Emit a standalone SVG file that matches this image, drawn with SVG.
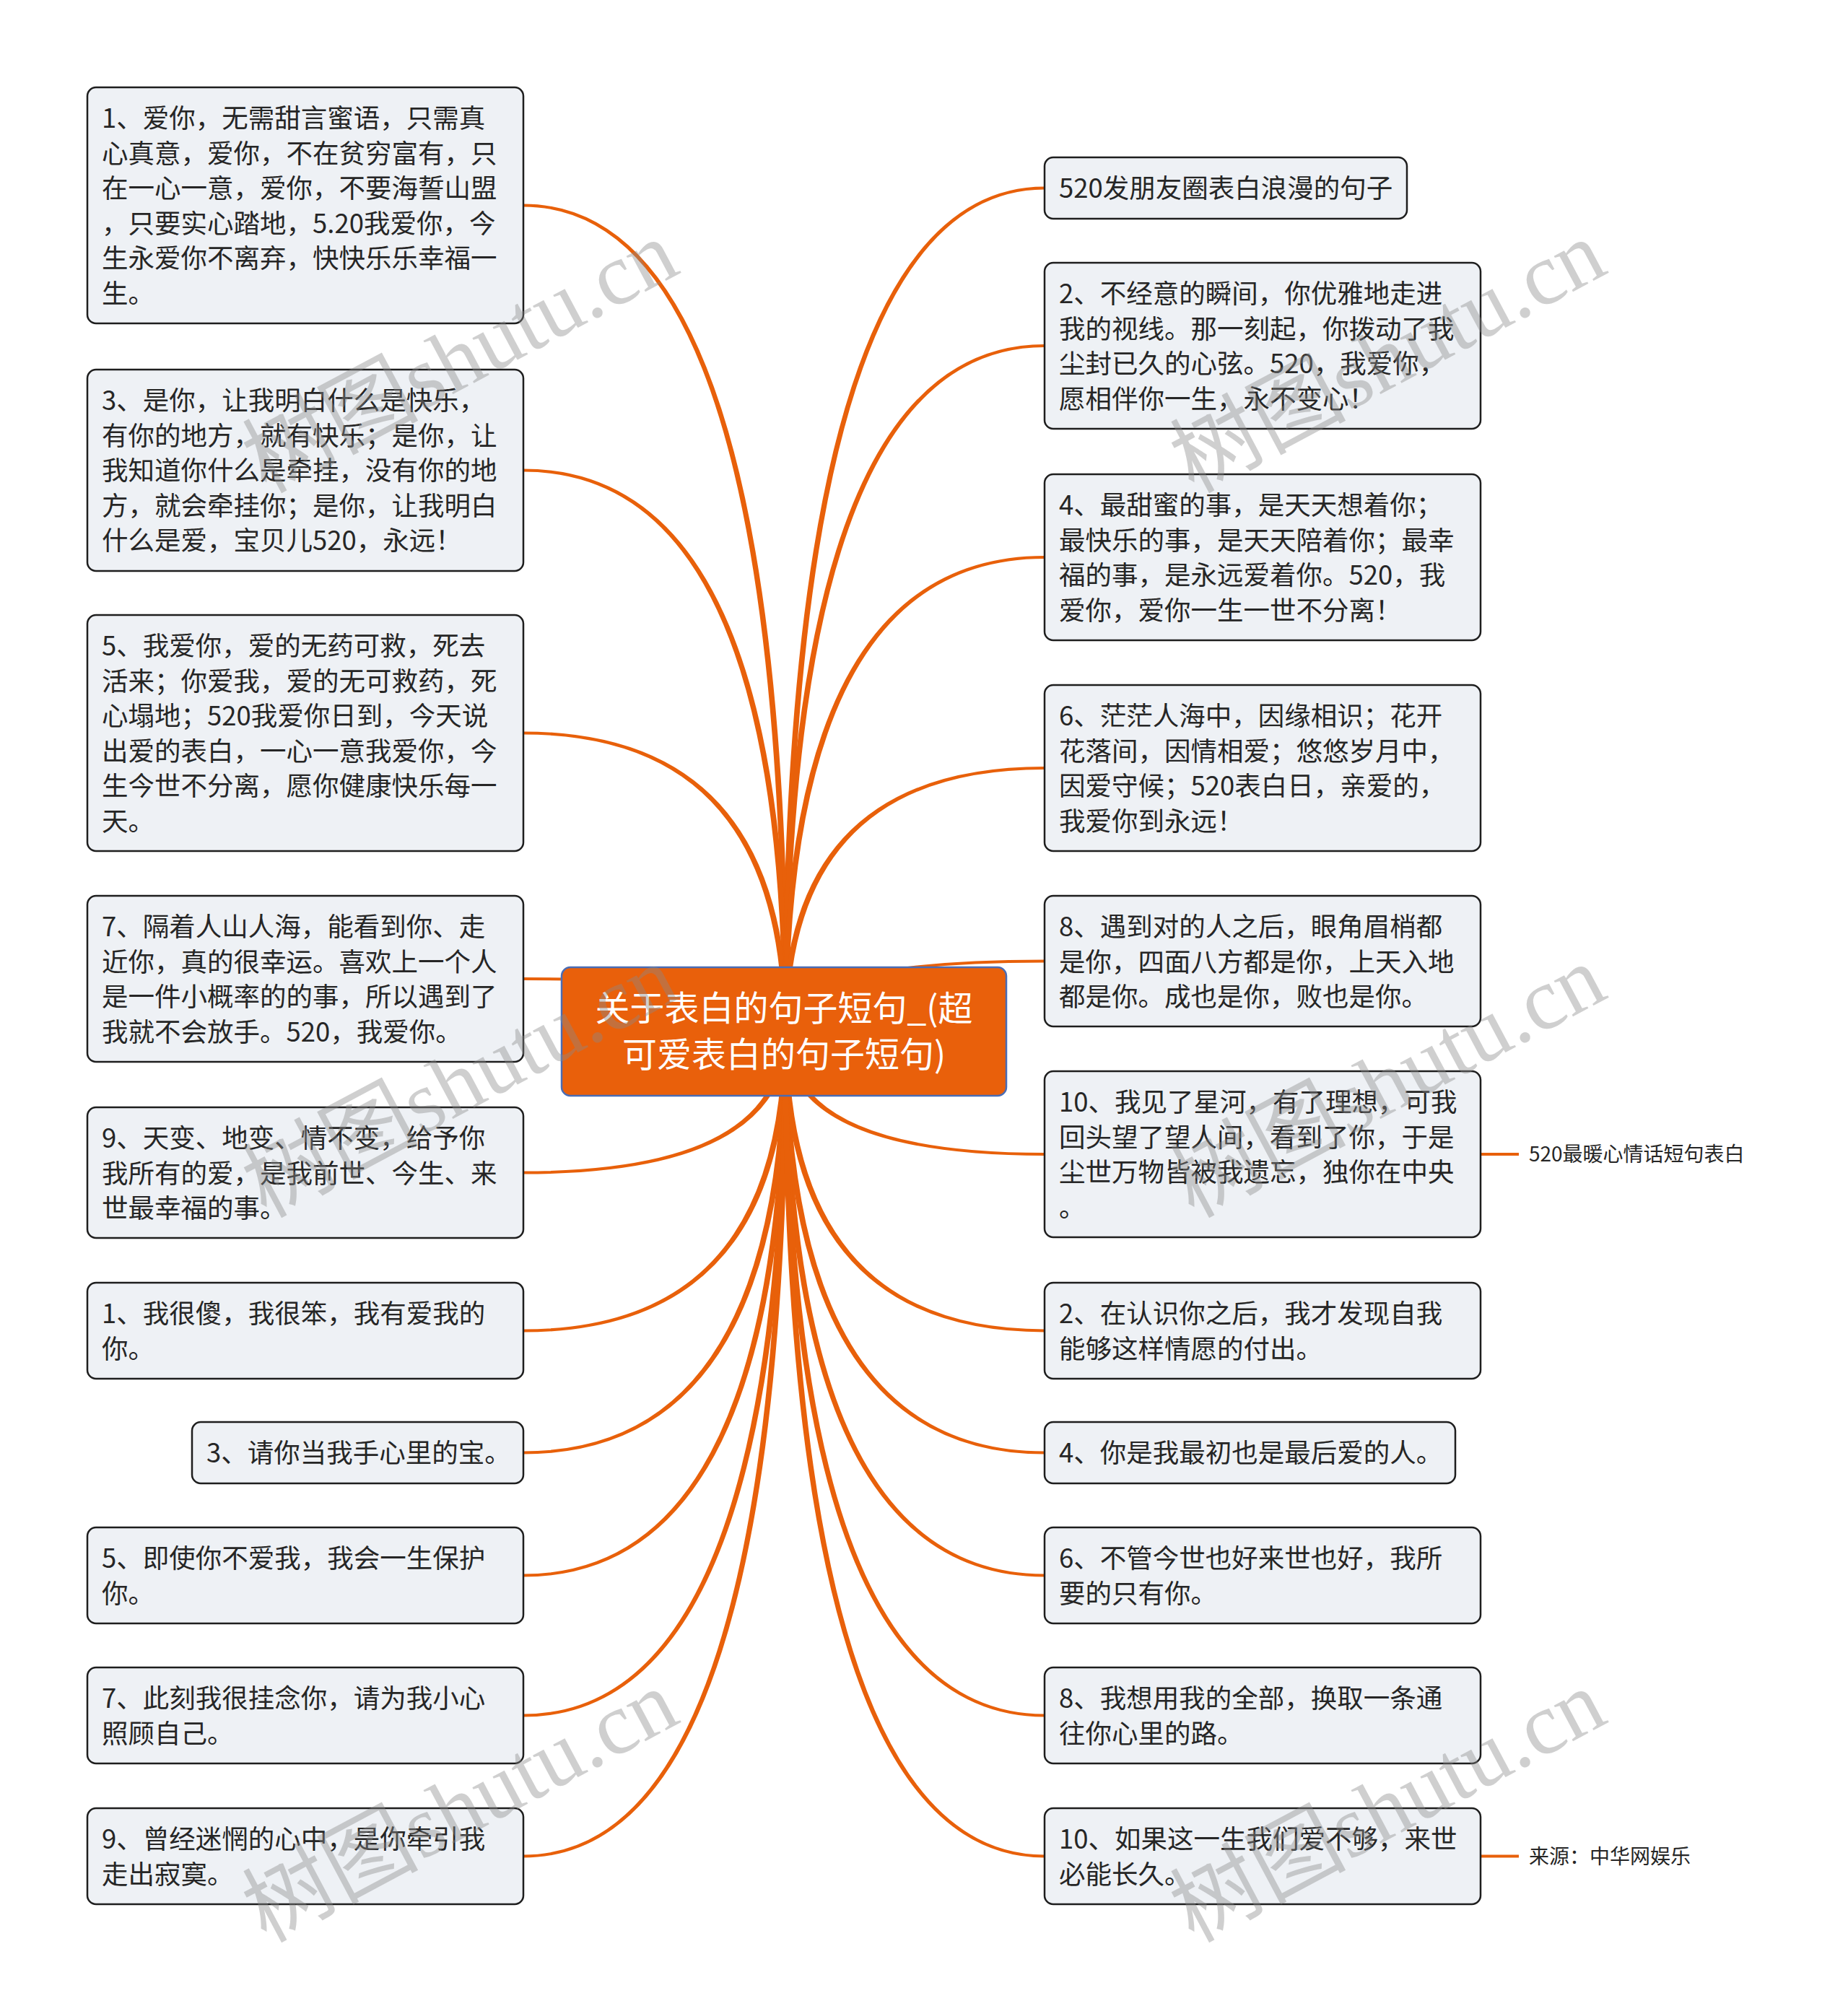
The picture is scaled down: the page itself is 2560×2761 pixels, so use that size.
<svg xmlns="http://www.w3.org/2000/svg" width="2560" height="2761" viewBox="0 0 2560 2761">
<style>
.bg{fill:#ffffff}
.box{fill:#EEF1F5;stroke:#1e1e1e;stroke-width:2.5}
.t{font-family:"Noto Sans CJK SC","Noto Sans",sans-serif;font-size:36.5px;fill:#262626}
.s{font-family:"Noto Sans CJK SC","Noto Sans",sans-serif;font-size:28px;fill:#262626}
.cbox{fill:#E9600B;stroke:#4A6CB4;stroke-width:2.5}
.ct{font-family:"Noto Sans CJK SC","Noto Sans",sans-serif;font-size:48px;fill:#ffffff;text-anchor:middle}
.conn path{fill:#E8600A}
.conn line{stroke:#E8600A;stroke-width:4}
.wm{font-family:"Liberation Serif","Noto Sans CJK SC",serif;font-size:122px;fill:#8a8a8a;opacity:0.4}
</style>
<rect class="bg" x="0" y="0" width="2560" height="2761"/>
<g id="connectors" class="conn">
<path d="M1092,1429 Q1092,282.5 725,282.5 L725,286.5 Q1084,286.5 1084,1429Z"/>
<path d="M1092,1429 Q1092,649.5 725,649.5 L725,653.5 Q1084,653.5 1084,1429Z"/>
<path d="M1092,1429 Q1092,1013.5 725,1013.5 L725,1017.5 Q1084,1017.5 1084,1429Z"/>
<path d="M1092,1429 Q1092,1354 725,1354 L725,1358 Q1084,1358 1084,1429Z"/>
<path d="M1092,1429 Q1092,1626.5 725,1626.5 L725,1622.5 Q1084,1622.5 1084,1429Z"/>
<path d="M1092,1429 Q1092,1845.5 725,1845.5 L725,1841.5 Q1084,1841.5 1084,1429Z"/>
<path d="M1092,1429 Q1092,2014.5 725,2014.5 L725,2010.5 Q1084,2010.5 1084,1429Z"/>
<path d="M1092,1429 Q1092,2184.5 725,2184.5 L725,2180.5 Q1084,2180.5 1084,1429Z"/>
<path d="M1092,1429 Q1092,2378.5 725,2378.5 L725,2374.5 Q1084,2374.5 1084,1429Z"/>
<path d="M1092,1429 Q1092,2573.5 725,2573.5 L725,2569.5 Q1084,2569.5 1084,1429Z"/>
<path d="M1084,1429 Q1084,258.5 1447,258.5 L1447,262.5 Q1092,262.5 1092,1429Z"/>
<path d="M1084,1429 Q1084,477 1447,477 L1447,481 Q1092,481 1092,1429Z"/>
<path d="M1084,1429 Q1084,770 1447,770 L1447,774 Q1092,774 1092,1429Z"/>
<path d="M1084,1429 Q1084,1062 1447,1062 L1447,1066 Q1092,1066 1092,1429Z"/>
<path d="M1084,1429 Q1084,1329.5 1447,1329.5 L1447,1333.5 Q1092,1333.5 1092,1429Z"/>
<path d="M1084,1429 Q1084,1601 1447,1601 L1447,1597 Q1092,1597 1092,1429Z"/>
<path d="M1084,1429 Q1084,1845.5 1447,1845.5 L1447,1841.5 Q1092,1841.5 1092,1429Z"/>
<path d="M1084,1429 Q1084,2014.5 1447,2014.5 L1447,2010.5 Q1092,2010.5 1092,1429Z"/>
<path d="M1084,1429 Q1084,2184.5 1447,2184.5 L1447,2180.5 Q1092,2180.5 1092,1429Z"/>
<path d="M1084,1429 Q1084,2378.5 1447,2378.5 L1447,2374.5 Q1092,2374.5 1092,1429Z"/>
<path d="M1084,1429 Q1084,2573.5 1447,2573.5 L1447,2569.5 Q1092,2569.5 1092,1429Z"/>
<line x1="2051" y1="1599" x2="2104" y2="1599"/>
<line x1="2051" y1="2571.5" x2="2104" y2="2571.5"/>
</g>
<g id="center">
<rect class="cbox" x="778" y="1340" width="616" height="178" rx="12"/>
<text class="ct" x="1086" y="1414">关于表白的句子短句_(超</text>
<text class="ct" x="1086" y="1478">可爱表白的句子短句)</text>
</g>
<g id="L1"><rect class="box" x="121" y="121" width="604" height="327" rx="12"/>
<text class="t" x="141" y="177">1、爱你，无需甜言蜜语，只需真</text>
<text class="t" x="141" y="225.5">心真意，爱你，不在贫穷富有，只</text>
<text class="t" x="141" y="274">在一心一意，爱你，不要海誓山盟</text>
<text class="t" x="141" y="322.5">，只要实心踏地，5.20我爱你，今</text>
<text class="t" x="141" y="371">生永爱你不离弃，快快乐乐幸福一</text>
<text class="t" x="141" y="419.5">生。</text></g>
<g id="L2"><rect class="box" x="121" y="512" width="604" height="279" rx="12"/>
<text class="t" x="141" y="568">3、是你，让我明白什么是快乐，</text>
<text class="t" x="141" y="616.5">有你的地方，就有快乐；是你，让</text>
<text class="t" x="141" y="665">我知道你什么是牵挂，没有你的地</text>
<text class="t" x="141" y="713.5">方，就会牵挂你；是你，让我明白</text>
<text class="t" x="141" y="762">什么是爱，宝贝儿520，永远！</text></g>
<g id="L3"><rect class="box" x="121" y="852" width="604" height="327" rx="12"/>
<text class="t" x="141" y="908">5、我爱你，爱的无药可救，死去</text>
<text class="t" x="141" y="956.5">活来；你爱我，爱的无可救药，死</text>
<text class="t" x="141" y="1005">心塌地；520我爱你日到，今天说</text>
<text class="t" x="141" y="1053.5">出爱的表白，一心一意我爱你，今</text>
<text class="t" x="141" y="1102">生今世不分离，愿你健康快乐每一</text>
<text class="t" x="141" y="1150.5">天。</text></g>
<g id="L4"><rect class="box" x="121" y="1241" width="604" height="230" rx="12"/>
<text class="t" x="141" y="1297">7、隔着人山人海，能看到你、走</text>
<text class="t" x="141" y="1345.5">近你，真的很幸运。喜欢上一个人</text>
<text class="t" x="141" y="1394">是一件小概率的的事，所以遇到了</text>
<text class="t" x="141" y="1442.5">我就不会放手。520，我爱你。</text></g>
<g id="L5"><rect class="box" x="121" y="1534" width="604" height="181" rx="12"/>
<text class="t" x="141" y="1590">9、天变、地变、情不变，给予你</text>
<text class="t" x="141" y="1638.5">我所有的爱，是我前世、今生、来</text>
<text class="t" x="141" y="1687">世最幸福的事。</text></g>
<g id="L6"><rect class="box" x="121" y="1777" width="604" height="133" rx="12"/>
<text class="t" x="141" y="1833">1、我很傻，我很笨，我有爱我的</text>
<text class="t" x="141" y="1881.5">你。</text></g>
<g id="L7"><rect class="box" x="266" y="1970" width="459" height="85" rx="12"/>
<text class="t" x="286" y="2026">3、请你当我手心里的宝。</text></g>
<g id="L8"><rect class="box" x="121" y="2116" width="604" height="133" rx="12"/>
<text class="t" x="141" y="2172">5、即使你不爱我，我会一生保护</text>
<text class="t" x="141" y="2220.5">你。</text></g>
<g id="L9"><rect class="box" x="121" y="2310" width="604" height="133" rx="12"/>
<text class="t" x="141" y="2366">7、此刻我很挂念你，请为我小心</text>
<text class="t" x="141" y="2414.5">照顾自己。</text></g>
<g id="L10"><rect class="box" x="121" y="2505" width="604" height="133" rx="12"/>
<text class="t" x="141" y="2561">9、曾经迷惘的心中，是你牵引我</text>
<text class="t" x="141" y="2609.5">走出寂寞。</text></g>
<g id="R1"><rect class="box" x="1447" y="218" width="502" height="85" rx="12"/>
<text class="t" x="1467" y="274">520发朋友圈表白浪漫的句子</text></g>
<g id="R2"><rect class="box" x="1447" y="364" width="604" height="230" rx="12"/>
<text class="t" x="1467" y="420">2、不经意的瞬间，你优雅地走进</text>
<text class="t" x="1467" y="468.5">我的视线。那一刻起，你拨动了我</text>
<text class="t" x="1467" y="517">尘封已久的心弦。520，我爱你，</text>
<text class="t" x="1467" y="565.5">愿相伴你一生，永不变心！</text></g>
<g id="R3"><rect class="box" x="1447" y="657" width="604" height="230" rx="12"/>
<text class="t" x="1467" y="713">4、最甜蜜的事，是天天想着你；</text>
<text class="t" x="1467" y="761.5">最快乐的事，是天天陪着你；最幸</text>
<text class="t" x="1467" y="810">福的事，是永远爱着你。520，我</text>
<text class="t" x="1467" y="858.5">爱你，爱你一生一世不分离！</text></g>
<g id="R4"><rect class="box" x="1447" y="949" width="604" height="230" rx="12"/>
<text class="t" x="1467" y="1005">6、茫茫人海中，因缘相识；花开</text>
<text class="t" x="1467" y="1053.5">花落间，因情相爱；悠悠岁月中，</text>
<text class="t" x="1467" y="1102">因爱守候；520表白日，亲爱的，</text>
<text class="t" x="1467" y="1150.5">我爱你到永远！</text></g>
<g id="R5"><rect class="box" x="1447" y="1241" width="604" height="181" rx="12"/>
<text class="t" x="1467" y="1297">8、遇到对的人之后，眼角眉梢都</text>
<text class="t" x="1467" y="1345.5">是你，四面八方都是你，上天入地</text>
<text class="t" x="1467" y="1394">都是你。成也是你，败也是你。</text></g>
<g id="R6"><rect class="box" x="1447" y="1484" width="604" height="230" rx="12"/>
<text class="t" x="1467" y="1540">10、我见了星河，有了理想，可我</text>
<text class="t" x="1467" y="1588.5">回头望了望人间，看到了你，于是</text>
<text class="t" x="1467" y="1637">尘世万物皆被我遗忘，独你在中央</text>
<text class="t" x="1467" y="1685.5">。</text></g>
<g id="R6c"><text class="s" x="2118" y="1609">520最暖心情话短句表白</text></g>
<g id="R7"><rect class="box" x="1447" y="1777" width="604" height="133" rx="12"/>
<text class="t" x="1467" y="1833">2、在认识你之后，我才发现自我</text>
<text class="t" x="1467" y="1881.5">能够这样情愿的付出。</text></g>
<g id="R8"><rect class="box" x="1447" y="1970" width="569" height="85" rx="12"/>
<text class="t" x="1467" y="2026">4、你是我最初也是最后爱的人。</text></g>
<g id="R9"><rect class="box" x="1447" y="2116" width="604" height="133" rx="12"/>
<text class="t" x="1467" y="2172">6、不管今世也好来世也好，我所</text>
<text class="t" x="1467" y="2220.5">要的只有你。</text></g>
<g id="R10"><rect class="box" x="1447" y="2310" width="604" height="133" rx="12"/>
<text class="t" x="1467" y="2366">8、我想用我的全部，换取一条通</text>
<text class="t" x="1467" y="2414.5">往你心里的路。</text></g>
<g id="R11"><rect class="box" x="1447" y="2505" width="604" height="133" rx="12"/>
<text class="t" x="1467" y="2561">10、如果这一生我们爱不够，来世</text>
<text class="t" x="1467" y="2609.5">必能长久。</text></g>
<g id="R11c"><text class="s" x="2118" y="2581.5">来源：中华网娱乐</text></g>
<g id="watermarks">
<text class="wm" transform="translate(368,684) rotate(-28)">树图shutu.cn</text>
<text class="wm" transform="translate(1653,684) rotate(-28)">树图shutu.cn</text>
<text class="wm" transform="translate(368,1688) rotate(-28)">树图shutu.cn</text>
<text class="wm" transform="translate(1653,1688) rotate(-28)">树图shutu.cn</text>
<text class="wm" transform="translate(368,2692) rotate(-28)">树图shutu.cn</text>
<text class="wm" transform="translate(1653,2692) rotate(-28)">树图shutu.cn</text>
</g>
</svg>
